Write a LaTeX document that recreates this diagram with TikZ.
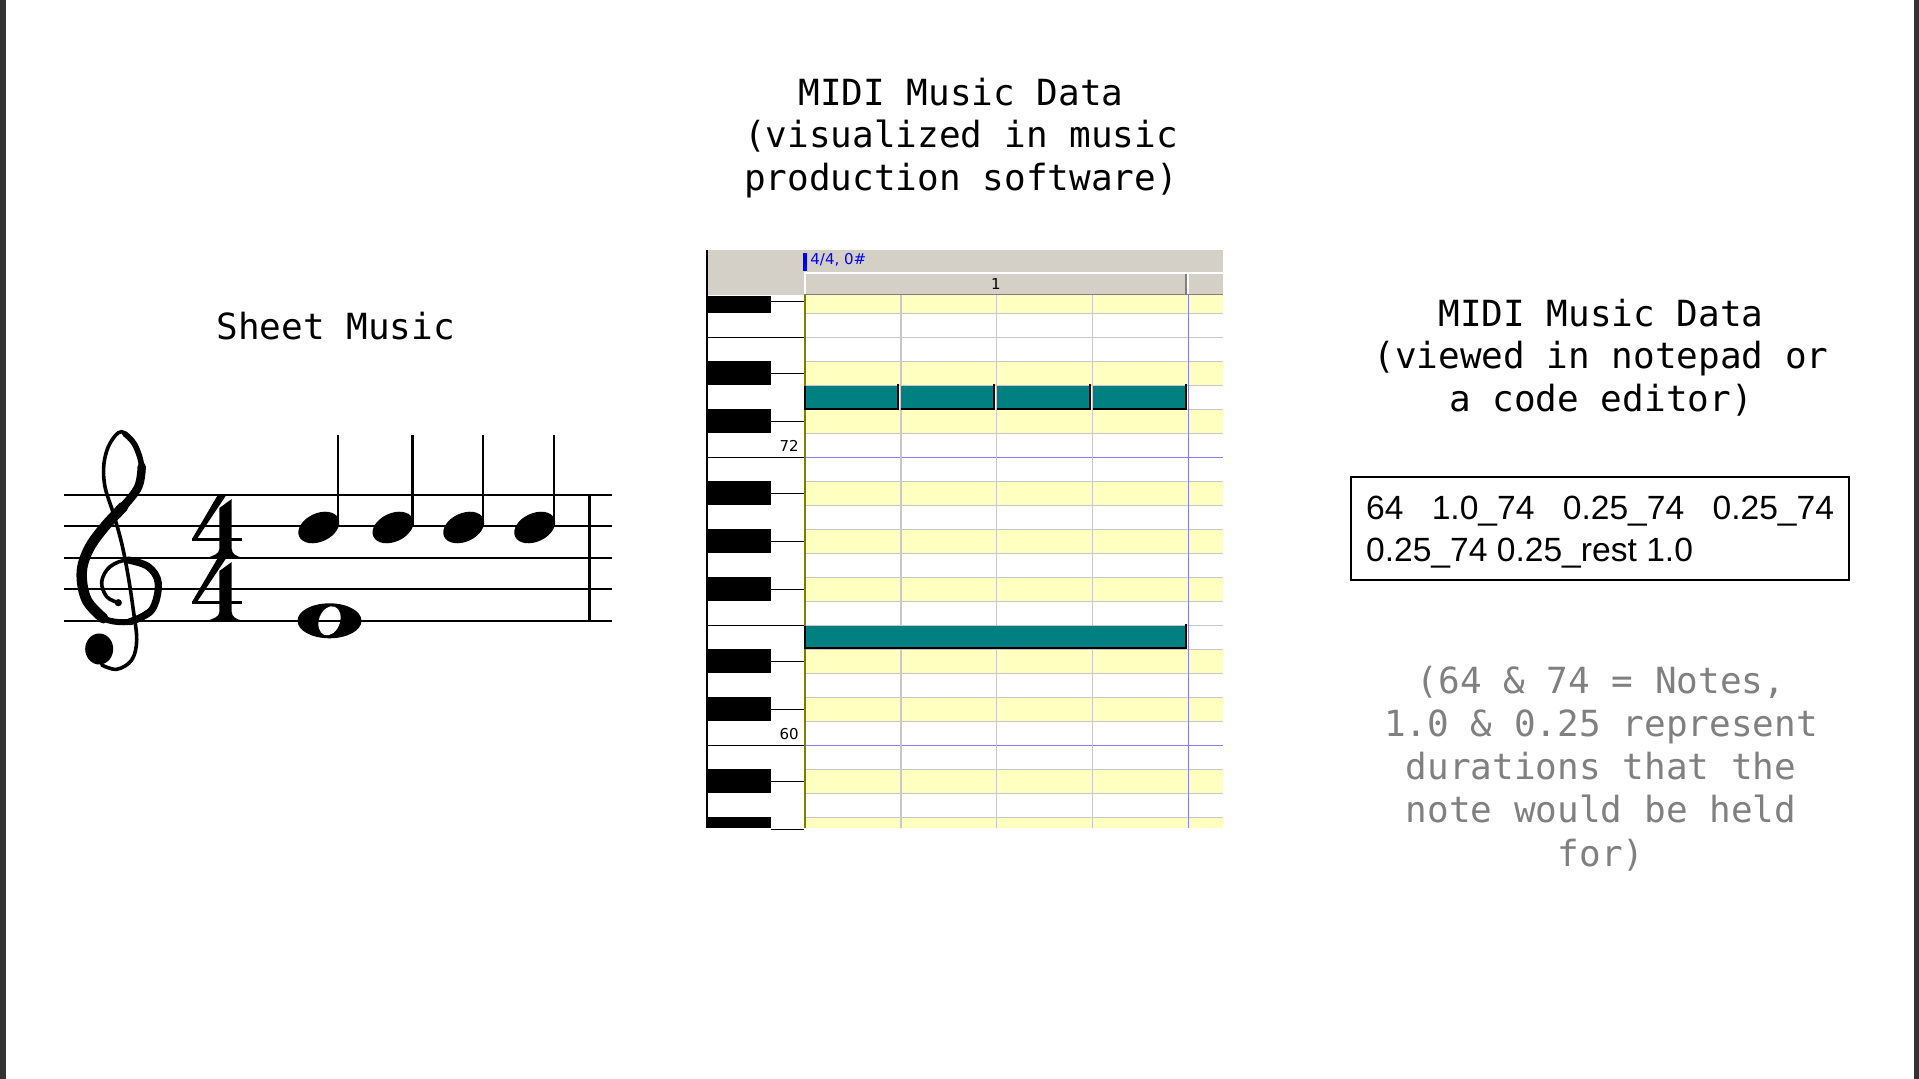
\documentclass[tikz,border=0pt]{standalone}
\usepackage{fontspec}
\setmainfont{Liberation Sans}
\newfontfamily\monof{DejaVu Sans Mono}
\newfontfamily\uif{DejaVu Sans}
\newfontfamily\boxf{Liberation Sans}
\definecolor{hdr}{HTML}{D4D0C8}
\definecolor{rowy}{HTML}{FFFFC0}
\definecolor{gridg}{HTML}{C8C8C8}
\definecolor{gridb}{HTML}{8080FF}
\definecolor{olivel}{HTML}{808000}
\definecolor{tealn}{HTML}{008080}
\definecolor{edgec}{HTML}{333333}
\definecolor{graytxt}{HTML}{808080}
\definecolor{sepg}{HTML}{808080}
\tikzset{
  ttl/.style={font=\monof\fontsize{18}{20}\selectfont, anchor=base, inner sep=0pt},
  gtxt/.style={ttl, text=graytxt},
  btxt/.style={font=\boxf\fontsize{16.8}{20}\selectfont, anchor=base west, inner sep=0pt},
  uitxt/.style={font=\uif\fontsize{7.5}{9}\selectfont, inner sep=0pt},
  gridline/.style={draw=gridg, line width=0.75pt},
  blueline/.style={draw=gridb, line width=0.75pt},
  staffline/.style={line width=1pt},
  clefstroke/.style={line cap=round, line join=round},
  notebox/.style={fill=tealn},
  noteedge/.style={line width=1pt, black},
}
\begin{document}
\begin{tikzpicture}[x=0.5pt,y=-0.5pt]
\useasboundingbox (0,0) rectangle (1919,1079);
\fill[white] (0,0) rectangle (1919,1079);
\fill[edgec] (0,0) rectangle (6,1079);
\fill[edgec] (1914,0) rectangle (1919,1079);

% ---------------- titles
\node[ttl] (t1a) at (961,105.2) {MIDI Music Data};
\node[ttl] (t1b) at (961,147.7) {(visualized in music};
\node[ttl] (t1c) at (961,190.2) {production software)};
\node[ttl] (sm) at (335.8,339.7) {Sheet Music};
\node[ttl] (t2a) at (1601,326.4) {MIDI Music Data};
\node[ttl] (t2b) at (1601,368.9) {(viewed in notepad or};
\node[ttl] (t2c) at (1601,411.4) {a code editor)};

% ---------------- text box
\node[draw, line width=1pt, inner sep=0pt, minimum width=249pt, minimum height=51.35pt] (box) at (1600.3,528.65) {};
\node[btxt] (bl1) at (1365.7,519.3) {\makebox[234pt][s]{64 1.0\_74 0.25\_74 0.25\_74}};
\node[btxt] (bl2) at (1365.7,562) {0.25\_74 0.25\_rest 1.0};

% ---------------- grey note
\node[gtxt] (g1) at (1601,693.7) {(64 \& 74 = Notes,};
\node[gtxt] (g2) at (1601,736.8) {1.0 \& 0.25 represent};
\node[gtxt] (g3) at (1601,779.9) {durations that the};
\node[gtxt] (g4) at (1601,823) {note would be held};
\node[gtxt] (g5) at (1601,866.1) {for)};

% ---------------- piano roll
\fill[hdr] (706,250) rectangle (1222.7,295);
\fill[white] (706,295) rectangle (1222.7,828.3);
\foreach \k in {0,3,5,8,10,12,15,17,20,22}
  \fill[rowy] (804,{max(295,289.3+24*\k)}) rectangle (1222.7,{min(828.3,313.3+24*\k)});
\foreach \k in {1,...,22}
  \draw[gridline] (804,{289.3+24*\k}) -- (1222.7,{289.3+24*\k});
\draw[blueline] (804,457.3) -- (1222.7,457.3);
\draw[blueline] (804,745.3) -- (1222.7,745.3);
\foreach \x in {900.8,996.5,1092.6}
  \draw[gridline] (\x,295) -- (\x,828.3);
\draw[blueline] (1188.3,295) -- (1188.3,828.3);
% header details
\draw[white, line width=1pt] (804.5,295) -- (804.5,273.3) -- (1222.7,273.3);
\draw[sepg, line width=0.75pt] (804,294.5) -- (1222.7,294.5);
\draw[sepg, line width=0.75pt] (1186.2,273.8) -- (1186.2,294.5);
\draw[white, line width=0.75pt] (1188.2,273.8) -- (1188.2,294.5);
\fill[blue] (803.3,253.3) rectangle (806.5,271);
\node[uitxt, text=blue, anchor=base west] (sig) at (810,265) {4/4, 0\#};
\node[uitxt, anchor=base] (bar1) at (996,290) {1};
% keyboard
\foreach \k in {0,3,5,8,10,12,15,17,20,22}{
  \fill[black] (707,{max(296.5,289.3+24*\k)}) rectangle (770.6,{min(828.3,312.8+24*\k)});
  \draw[black, line width=0.6pt] (770.6,{301.3+24*\k}) -- (804,{301.3+24*\k});
}
\foreach \yy in {337.3,457.3,625.3,745.3}
  \draw[black, line width=0.7pt] (707,\yy) -- (804,\yy);
\draw[olivel, line width=1pt] (804.6,295) -- (804.6,828.3);
\draw[black, line width=1.1pt] (707,250) -- (707,828.3);
\node[uitxt, anchor=base east] (k72) at (799,452) {72};
\node[uitxt, anchor=base east] (k60) at (799,740) {60};
% notes
\foreach \a/\b in {804.3/898, 900.8/993.7, 996.5/1089.8, 1092.6/1185.5}{
  \fill[notebox] (\a,385.8) rectangle (\b,409);
  \draw[noteedge] (\a,409) -- (\b,409) -- (\b,384);
}
\draw[noteedge] (804.8,385.8) -- (804.8,409);
\fill[notebox] (804.3,625.8) rectangle (1185.5,648.3);
\draw[noteedge] (804.8,625.8) -- (804.8,648.3) -- (1185.5,648.3) -- (1185.5,624.5);

% ---------------- sheet music
% quarter notes
\foreach \hx/\sx in {318.8/338, 393/412.2, 463.7/482.9, 534.7/553.9}{
  \fill[rotate around={25:(\hx,527.5)}] (\hx,527.5) ellipse [x radius=21.6, y radius=14.2];
  \draw[line width=1.4pt] (\sx,435) -- (\sx,525);
}
% whole note
\fill (329.5,620.8) ellipse [x radius=32, y radius=17.5];
\fill[white, rotate around={-20:(329.5,620.8)}] (329.5,620.8) ellipse [x radius=10.5, y radius=15];
% staff
\foreach \yy in {495,526.5,558,589.4,620.8}
  \draw[staffline] (64,\yy) -- (612.2,\yy);
\draw[line width=1.9pt] (589.4,495) -- (589.4,620.8);
% time signature (two 4s)
\foreach \dy in {0,63}{
  \begin{scope}[yshift=-\dy*0.5pt]
    \fill (217.5,495.5) -- (226,495.5) -- (197,539) -- (192,539) -- cycle;
    \fill (192,537.6) rectangle (242,541.4);
    \fill (219.4,508) -- (231.7,499) -- (231.7,549) .. controls (232,554) and (236,556) .. (242,557.7) -- (207,557.7) .. controls (213,556) and (219.2,554) .. (219.4,549) -- cycle;
  \end{scope}
}
% treble clef
\draw[clefstroke, line width=1.8pt] plot[smooth, tension=0.6] coordinates {
 (118.3,602.7) (106.7,596.7) (101.7,581.7) (110,566.7) (128.3,560) (148.3,566.7)
 (158.3,583.3) (151.7,610) (130,621.7) (103.3,618.3) (86.7,600) (81.7,573.3)
 (88.3,550) (103.3,528.3) (123.3,506.7) (138.3,486.7) (141.7,466.7) (135,445)
 (121.7,431.7) (110,443.3) (104,463.3) (105,486.7) (113.3,513.3) (121.7,543.3)
 (128.3,576.7) (133.3,610) (136.7,640) (131.7,660) (116.7,669.3) (101.7,665)};
\draw[clefstroke, line width=3.6pt] plot[smooth, tension=0.6] coordinates {
 (128.3,560) (148.3,566.7) (158.3,583.3) (151.7,610) (130,621.7)};
\draw[clefstroke, line width=3pt] plot[smooth, tension=0.6] coordinates {
 (151.7,610) (130,621.7) (103.3,618.3) (86.7,600)};
\draw[clefstroke, line width=5.2pt] plot[smooth, tension=0.6] coordinates {
 (103.3,618.3) (86.7,600) (81.7,573.3) (88.3,550) (103.3,528.3) (123.3,506.7)};
\draw[clefstroke, line width=4.2pt] plot[smooth, tension=0.6] coordinates {
 (103.3,528.3) (123.3,506.7) (138.3,486.7) (141.7,466.7)};
\draw[clefstroke, line width=2.8pt] plot[smooth, tension=0.6] coordinates {
 (138.3,486.7) (141.7,466.7) (135,445) (125,434)};
\fill (118.3,602.7) circle [radius=3.6];
\fill (99.2,649) ellipse [x radius=14, y radius=15.5];
\end{tikzpicture}
\end{document}
